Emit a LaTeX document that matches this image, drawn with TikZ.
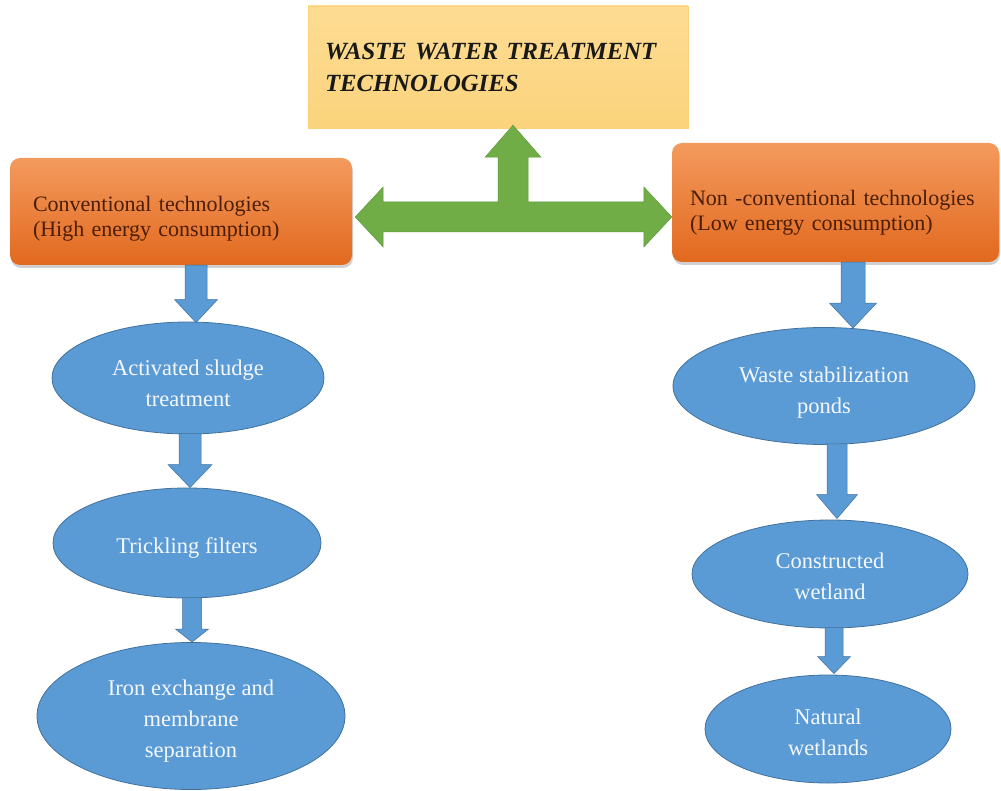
\documentclass[tikz,border=0pt]{standalone}
\usepackage{fontspec}
\setmainfont{Liberation Serif}
\usetikzlibrary{shapes.geometric,calc,shadows}
\definecolor{ellfill}{HTML}{5B9BD5}
\definecolor{elldraw}{HTML}{41719C}
\definecolor{orgtop}{HTML}{F39A5E}
\definecolor{orgmid}{HTML}{EE7E35}
\definecolor{orgbot}{HTML}{E2691E}
\definecolor{orgtext}{HTML}{4B1E05}
\definecolor{titlefill}{HTML}{FCD98B}
\definecolor{titletop}{HTML}{FDDC93}
\definecolor{titlebot}{HTML}{FBD37C}
\definecolor{grn}{HTML}{70AD47}
\definecolor{grndraw}{HTML}{5E9A3A}
\definecolor{elltext}{HTML}{F4F8FC}
\newcommand{\lift}[1]{\rule{0pt}{#1}}
\tikzset{
  ellnode/.style={ellipse, fill=ellfill, draw=elldraw, line width=0.8pt, inner sep=0pt,
    align=center, text=elltext, font=\fontsize{22.5}{31}\selectfont},
  orgbox/.style={rectangle, rounded corners=10pt, top color=orgtop, middle color=orgmid,
    bottom color=orgbot, draw=none, align=left, text=orgtext,
    font=\fontsize{22}{25}\selectfont,
    drop shadow={shadow xshift=1pt, shadow yshift=-3pt, opacity=0.3, fill=black!60}},
  titlebox/.style={rectangle, top color=titletop, bottom color=titlebot, draw=titlefill!90!orange,
    line width=0.5pt, align=left, text=black!90,
    font=\fontsize{24.7}{32}\selectfont\bfseries\itshape},
  bluearrow/.style={fill=ellfill, draw=elldraw, line width=0.5pt},
  greenarrow/.style={fill=grn, draw=grndraw, line width=0.5pt, line join=miter},
}
\newcommand{\blockdown}[5]{%
  \path[bluearrow] let \p1=(#1), \p2=(#2) in
    ({\x2-#3},\y1) -- ({\x2+#3},\y1) -- ({\x2+#3},{\y2+#5}) -- ({\x2+#4},{\y2+#5})
    -- (\x2,\y2) -- ({\x2-#4},{\y2+#5}) -- ({\x2-#3},{\y2+#5}) -- cycle;
}
\begin{document}
\begin{tikzpicture}[x=1pt,y=-1pt]
\useasboundingbox[fill=white] (0,0) rectangle (1001,791);

% title
\node[titlebox, minimum width=380pt, minimum height=122pt, inner xsep=17pt, text width=346pt]
  (title) at (498,67) {WASTE~WATER~TREATMENT\\TECHNOLOGIES};

% orange boxes
\node[orgbox, minimum width=342pt, minimum height=107pt, inner xsep=23pt, text width=296pt]
  (L) at (181,211.5) {\lift{29pt}Conventional~technologies\\(High~energy~consumption)};
\node[orgbox, minimum width=327pt, minimum height=119pt, inner xsep=18pt, text width=291pt]
  (R) at (835.5,202.5) {\lift{35pt}Non~-conventional~technologies\\(Low~energy~consumption)};

% ellipses left
\node[ellnode, minimum width=272pt, minimum height=112pt] (L1) at (188,378) {\lift{26pt}Activated sludge\\treatment};
\node[ellnode, minimum width=268pt, minimum height=110pt] (L2) at (187,543) {\lift{25pt}Trickling filters};
\node[ellnode, minimum width=308pt, minimum height=147pt] (L3) at (191,716) {\lift{26pt}Iron exchange and\\membrane\\separation};

% ellipses right
\node[ellnode, minimum width=302pt, minimum height=117pt] (R1) at (824,386) {\lift{28pt}Waste stabilization\\ponds};
\node[ellnode, minimum width=276pt, minimum height=108pt] (R2) at (830,574) {\lift{20pt}Constructed\\wetland};
\node[ellnode, minimum width=246pt, minimum height=108pt] (R3) at (828,729) {\lift{23pt}Natural\\wetlands};

% arrow end coordinates
\coordinate (a1s) at ($(L.south)+(15,0)$);
\coordinate (a1e) at ($(L1.north)+(8,1)$);
\coordinate (a2s) at ($(L1.south)+(2,-1)$);
\coordinate (a2e) at ($(L2.north)+(3,0)$);
\coordinate (a3s) at ($(L2.south)+(5,-1)$);
\coordinate (a3e) at ($(L3.north)+(1,0)$);
\coordinate (b1s) at ($(R.south)+(17.5,0)$);
\coordinate (b1e) at ($(R1.north)+(29,1)$);
\coordinate (b2s) at ($(R1.south)+(13,-1)$);
\coordinate (b2e) at ($(R2.north)+(7,-1)$);
\coordinate (b3s) at ($(R2.south)+(4,-1)$);
\coordinate (b3e) at ($(R3.north)+(6,-1)$);

\blockdown{a1s}{a1e}{11pt}{21.5pt}{23pt}
\blockdown{a2s}{a2e}{11pt}{22pt}{23pt}
\blockdown{a3s}{a3e}{9.5pt}{16.5pt}{13pt}
\blockdown{b1s}{b1e}{12pt}{23.5pt}{25pt}
\blockdown{b2s}{b2e}{10pt}{20.5pt}{24pt}
\blockdown{b3s}{b3e}{9pt}{16.5pt}{17pt}

% green T double arrow
\coordinate (gL) at ($(L.east)+(3,5.5)$);
\coordinate (gR) at ($(R.west)+(0,14.5)$);
\coordinate (gU) at ($(title.south)+(15,-3)$);
\path[greenarrow] let \p1=(gL), \p2=(gR), \p3=(gU) in
  (\p1) -- ({\x1+28pt},{\y1+30pt}) -- ({\x1+28pt},{\y1+15pt}) -- ({\x3-15pt},{\y1+15pt})
  -- ({\x3-15pt},{\y3-32pt}) -- ({\x3-28pt},{\y3-32pt}) -- (\p3) -- ({\x3+28pt},{\y3-32pt})
  -- ({\x3+15pt},{\y3-32pt}) -- ({\x3+15pt},{\y1+15pt}) -- ({\x2-28pt},{\y1+15pt})
  -- ({\x2-28pt},{\y1+30pt}) -- (\x2,\y1) -- ({\x2-28pt},{\y1-30pt}) -- ({\x2-28pt},{\y1-15pt})
  -- ({\x1+28pt},{\y1-15pt}) -- ({\x1+28pt},{\y1-30pt}) -- cycle;
\end{tikzpicture}
\end{document}
